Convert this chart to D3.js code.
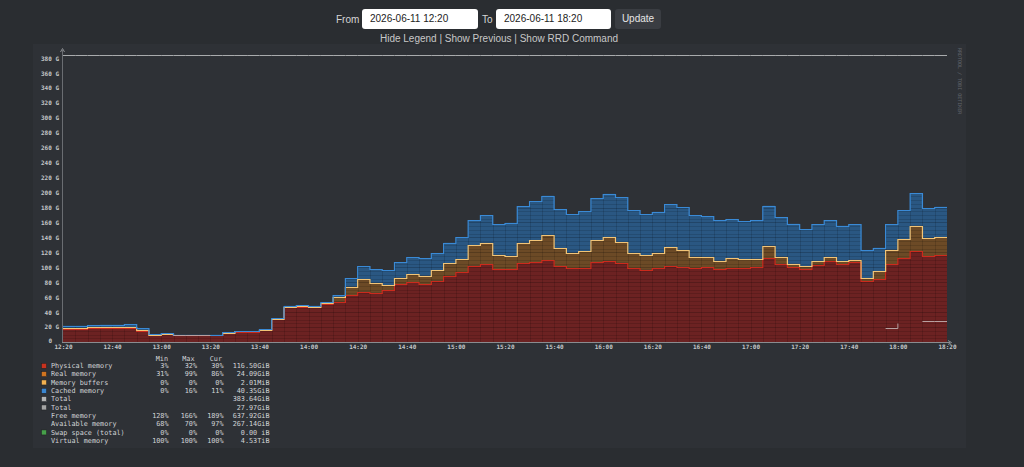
<!DOCTYPE html>
<html>
<head>
<meta charset="utf-8">
<title>Memory</title>
<script src="https://cdn.jsdelivr.net/npm/d3@7"></script>
<style>
  html, body { margin: 0; padding: 0; }
  body { width: 1024px; height: 467px; background: #2a2d31; overflow: hidden; position: relative;
         font-family: "Liberation Sans", Arial, sans-serif; }
  .lbl { position: absolute; top: 14px; font-size: 10px; color: #d6d6d6; }
  .inp { position: absolute; top: 9px; height: 20px; line-height: 20px; background: #fff; border-radius: 3px;
         font-size: 10px; color: #222; padding-left: 8px; box-sizing: border-box; }
  .btn { position: absolute; top: 9px; left: 615px; width: 46px; height: 20px; line-height: 20px; background: #3a3d42;
         border-radius: 3px; color: #e6e6e6; font-size: 10px; text-align: center; }
  #links { position: absolute; top: 33px; left: 0; width: 998px; text-align: center; font-size: 10px; color: #c8c8c8; }
  svg { position: absolute; left: 0; top: 0; }
</style>
</head>
<body>
<svg id="chart" width="1024" height="467"></svg>
<div class="lbl" style="left:336px">From</div>
<div class="inp" style="left:362px;width:116px">2026-06-11 12:20</div>
<div class="lbl" style="left:482px">To</div>
<div class="inp" style="left:496px;width:115px">2026-06-11 18:20</div>
<div class="btn">Update</div>
<div id="links">Hide Legend | Show Previous | Show RRD Command</div>
<script>
// 5 minute RRD steps, 12:20 -> 18:20
const startTime = new Date(2026, 5, 11, 12, 20);
const stepMin = 5;

// GiB per step
const physical = [17.4,17.4,18.3,18.3,18.8,19.0,15.2,9.0,10.2,8.8,
  8.8,8.8,8.8,12.0,13.8,13.8,15.6,31.0,46.4,47.0,
  46.4,50.9,54.0,62.9,67.4,66.0,69.6,77.2,79.9,77.6,
  82.0,88.8,93.3,102.0,104.0,97.3,97.3,105.3,107.1,109.4,
  101.3,99.1,99.5,106.7,108.8,106.2,98.7,96.8,98.7,102.1,
  100.8,99.1,100.0,97.7,99.1,99.1,100.8,112.0,104.8,100.0,
  97.7,103.5,108.0,104.4,106.7,81.7,84.3,104.4,112.0,121.8,
  115.1,116.5];
const realMem = [1.2,1.2,1.2,1.2,1.2,1.2,0.8,0.3,0.3,0.3,
  0.3,0.3,0.3,0.3,0.3,0.3,0.3,0.4,0.8,0.8,
  0.8,0.8,5.8,11.1,16.5,12.5,6.3,8.8,11.1,11.2,
  14.0,16.5,17.7,27.9,28.9,19.6,18.2,27.6,28.9,33.8,
  24.5,20.4,22.3,29.4,31.3,27.7,20.0,19.2,20.8,24.6,
  22.4,15.1,13.4,11.1,12.9,11.6,10.7,16.9,9.4,4.8,
  4.0,4.5,5.4,4.0,3.5,4.0,10.3,19.2,25.9,33.9,
  24.1,24.09];
const cached = [3.2,3.2,3.3,3.7,3.2,3.9,2.3,1.0,1.1,0.7,
  0.7,0.7,0.7,0.6,0.6,0.6,0.9,0.7,1.4,1.7,
  1.4,1.4,3.1,11.2,17.8,19.2,20.1,21.0,22.4,23.2,
  22.7,27.6,29.0,33.4,36.7,40.7,44.2,49.1,52.8,52.7,
  51.8,51.9,53.2,56.3,58.4,60.2,58.0,55.4,54.9,58.0,
  57.5,55.4,54.8,54.5,52.2,50.8,51.4,53.6,53.1,53.6,
  49.2,49.6,49.9,47.3,47.8,37.1,31.6,34.4,38.4,43.8,
  39.8,40.35];
const totalMem = [383.64,383.64,383.64,383.64,383.64,383.64,383.64,383.64,384.4,384.4,
  384.2,383.64,383.64,383.64,383.64,383.64,383.64,383.64,383.64,383.64,
  383.64,383.64,383.64,383.64,383.64,383.64,383.64,383.64,383.64,383.64,
  383.64,383.64,383.64,383.64,383.64,383.64,383.64,383.64,383.64,383.64,
  383.64,383.64,383.64,383.64,383.64,383.64,383.64,383.64,383.64,383.64,
  383.64,383.64,383.64,383.64,383.64,383.64,383.64,383.64,383.64,383.64,
  383.64,383.64,383.64,383.64,383.64,383.64,383.64,383.64,383.64,383.64,
  383.64,383.64];
const totalSwap = [null,null,null,null,null,null,null,9.5,null,9.5,
  9.5,9.5,9.5,null,null,null,1.0,null,null,null,
  null,null,null,null,null,null,null,null,null,null,
  null,null,null,null,null,null,null,null,null,null,
  null,null,null,null,null,null,null,null,null,null,
  null,null,null,null,null,null,null,null,null,null,
  null,null,null,null,null,null,null,18.7,25.0,null,
  28.5,27.97];

const yTicks = [0,20,40,60,80,100,120,140,160,180,200,220,240,260,280,300,320,340,360,380];
const xTicks = ["12:20","12:40","13:00","13:20","13:40","14:00","14:20","14:40","15:00","15:20",
  "15:40","16:00","16:20","16:40","17:00","17:20","17:40","18:00","18:20"];

const legendNames = ["Physical memory","Real memory","Memory buffers","Cached memory","Total","Total",
  "Free memory","Available memory","Swap space (total)","Virtual memory"];
const legendColors = ["#c8321e","#d07420","#f0b050","#3a86d0","#b4b4b4","#a4a4a4",null,null,"#46a04a",null];
const legendMin = ["3%","31%","0%","0%","","","128%","68%","0%","100%"];
const legendMax = ["32%","99%","0%","16%","","","166%","70%","0%","100%"];
const legendCur = ["30%","86%","0%","11%","","","189%","97%","0%","100%"];
const legendValue = ["116.50GiB","24.09GiB","2.01MiB","40.35GiB","383.64GiB","27.97GiB",
  "637.92GiB","267.14GiB","0.00 iB","4.53TiB"];

const svg = d3.select("#chart");
const mono = "'DejaVu Sans Mono', monospace";

// graph panel
svg.append("rect").attr("x", 33).attr("y", 44).attr("width", 933).attr("height", 404).attr("fill", "#2e3136");

const parse = d3.timeParse("%H:%M");
const t = s => { const p = parse(s); return new Date(2026, 5, 11, p.getHours(), p.getMinutes()); };
const endTime = d3.timeMinute.offset(startTime, stepMin * physical.length);

const x = d3.scaleTime().domain([startTime, endTime]).range([63, 947]);
const y = d3.scaleLinear().domain([0, 390]).range([342, 342 - 390 * 0.747]);

const rows = physical.map((v, i) => ({
  t: d3.timeMinute.offset(startTime, i * stepMin), physical: v, real: realMem[i], cached: cached[i],
  total: totalMem[i], swap: totalSwap[i]
}));
rows.push(Object.assign({}, rows[rows.length - 1], { t: endTime }));

const stack = d3.stack().keys(["physical", "real", "cached"]);
const series = stack(rows);

const fills = { physical: "#6c2222", real: "#6c4a26", cached: "#2a5782" };
const lines = { physical: "#cc2a1c", real: "#f2c476", cached: "#3a8ad6" };

const area = d3.area().curve(d3.curveStepAfter)
  .x(d => x(d.data.t)).y0(d => y(d[0])).y1(d => y(d[1]));
const topLine = d3.line().curve(d3.curveStepAfter)
  .x(d => x(d.data.t)).y(d => Math.round(y(d[1])) + 0.5);

const plot = svg.append("g");
plot.selectAll("path.area").data(series).join("path")
  .attr("class", "area").attr("d", area).attr("fill", d => fills[d.key]);

// grid only shows over the filled stack
svg.append("clipPath").attr("id", "stackClip")
  .append("path").attr("d", area(series[series.length - 1].map(d => Object.assign([0, d[1]], { data: d.data }))));
const grid = svg.append("g").attr("clip-path", "url(#stackClip)").attr("shape-rendering", "crispEdges");
grid.selectAll("line.h").data(d3.range(5, 390, 5)).join("line")
  .attr("x1", 63).attr("x2", 947).attr("y1", d => Math.round(y(d)) + 0.5).attr("y2", d => Math.round(y(d)) + 0.5)
  .attr("stroke", d => d % 20 === 0 ? "rgba(0,0,0,0.2)" : "rgba(0,0,0,0.12)");
grid.selectAll("line.v").data(rows.slice(1, -1)).join("line")
  .attr("y1", y(390)).attr("y2", 342)
  .attr("x1", d => Math.round(x(d.t)) + 0.5).attr("x2", d => Math.round(x(d.t)) + 0.5)
  .attr("stroke", "rgba(0,0,0,0.13)");

svg.append("g").selectAll("path.top").data(series).join("path")
  .attr("class", "top").attr("d", topLine).attr("fill", "none")
  .attr("stroke", d => lines[d.key]).attr("stroke-width", 1.2);

// totals
const tLine = key => d3.line().curve(d3.curveStepAfter).defined(d => d[key] != null)
  .x(d => x(d.t)).y(d => Math.round(y(d[key])) + 0.5);
svg.append("path").attr("d", tLine("total")(rows)).attr("fill", "none")
  .attr("stroke", "#a9abad").attr("stroke-width", 1);
svg.append("path").attr("d", tLine("swap")(rows)).attr("fill", "none")
  .attr("stroke", "#b8a0a0").attr("stroke-width", 1);

// axes
svg.append("line").attr("x1", 62.5).attr("x2", 62.5).attr("y1", 50).attr("y2", 342.5).attr("stroke", "#6a6d72");
svg.append("line").attr("x1", 62).attr("x2", 950).attr("y1", 342.5).attr("y2", 342.5).attr("stroke", "#8a8c90");
svg.append("path").attr("d", "M60.5,52 L62.5,48.5 L64.5,52").attr("fill", "none").attr("stroke", "#8a8c90");
svg.append("path").attr("d", "M948,340.5 L951.5,342.5 L948,344.5").attr("fill", "none").attr("stroke", "#8a8c90");

const yAxis = svg.append("g").attr("transform", "translate(59,0)")
  .call(d3.axisLeft(y).tickValues(yTicks).tickSize(0).tickPadding(0)
    .tickFormat(d => d === 0 ? "0" : d + " G"));
yAxis.select(".domain").remove();
yAxis.selectAll("text").attr("font-family", mono).attr("font-size", 6).attr("fill", "#c4c6c8");
// zero has no unit, so it sits left of the unit column
yAxis.selectAll("text").filter(d => d === 0).attr("dx", -7).attr("dy", "0.1em");

const xAxis = svg.append("g").attr("transform", "translate(0,344)")
  .call(d3.axisBottom(x).tickValues(xTicks.map(t)).tickSize(0).tickPadding(1)
    .tickFormat(d3.timeFormat("%H:%M")));
xAxis.select(".domain").remove();
xAxis.selectAll("text").attr("font-family", mono).attr("font-size", 6).attr("fill", "#c4c6c8");
svg.selectAll(".tick text").attr("font-weight", "bold");

// watermark
svg.append("text").attr("transform", "translate(958,48) rotate(90)")
  .attr("font-family", mono).attr("font-size", 5).attr("fill", "#62666c")
  .text("RRDTOOL / TOBI OETIKER");

// legend
const lg = svg.append("g").attr("font-family", mono).attr("font-size", 6.8).attr("fill", "#d2d4d6");
const cols = { min: 168.5, max: 197, cur: 223.5, val: 269.5 };
lg.append("text").attr("x", cols.min - 0.5).attr("y", 360.5).attr("text-anchor", "end").text("Min");
lg.append("text").attr("x", cols.max - 2.5).attr("y", 360.5).attr("text-anchor", "end").text("Max");
lg.append("text").attr("x", cols.cur - 1.5).attr("y", 360.5).attr("text-anchor", "end").text("Cur");

const rowY = i => 365.8 + i * 8.33;
legendNames.forEach((name, i) => {
  const by = rowY(i) + 2.3;
  if (legendColors[i]) {
    lg.append("rect").attr("x", 41.5).attr("y", rowY(i) - 2.5).attr("width", 5).attr("height", 5)
      .attr("fill", legendColors[i]).attr("stroke", "#1e1f22").attr("stroke-width", 0.5);
  }
  lg.append("text").attr("x", 51).attr("y", by).text(name);
  lg.append("text").attr("x", cols.min).attr("y", by).attr("text-anchor", "end").text(legendMin[i]);
  lg.append("text").attr("x", cols.max).attr("y", by).attr("text-anchor", "end").text(legendMax[i]);
  lg.append("text").attr("x", cols.cur).attr("y", by).attr("text-anchor", "end").text(legendCur[i]);
  lg.append("text").attr("x", cols.val).attr("y", by).attr("text-anchor", "end").text(legendValue[i]);
});
</script>
</body>
</html>
